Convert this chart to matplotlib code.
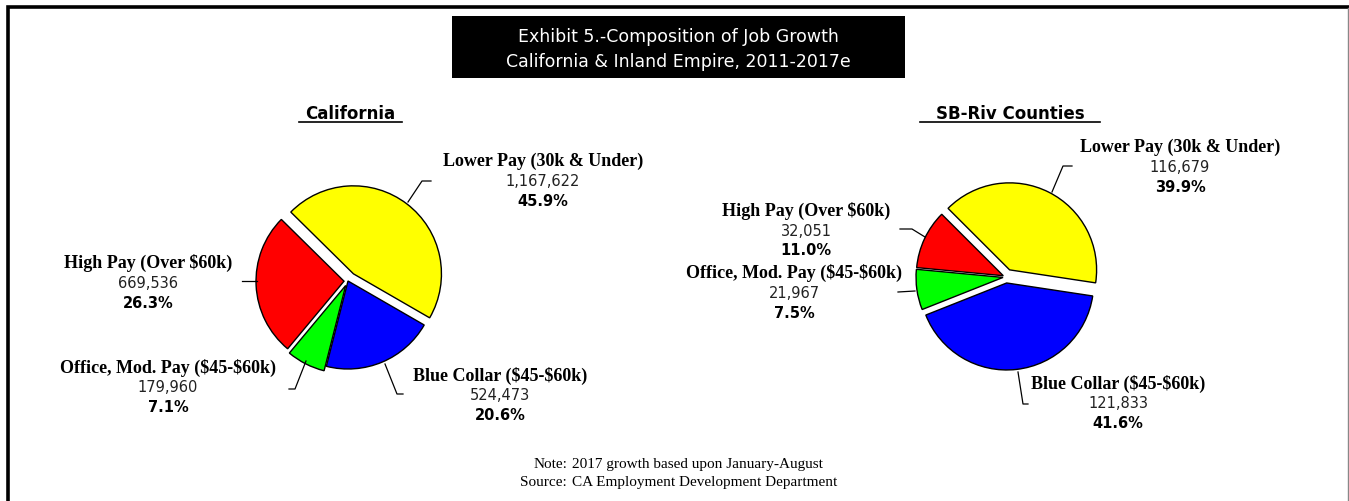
import matplotlib.pyplot as plt
from matplotlib.patches import Rectangle

plt.rcParams['text.parse_math'] = False

W, H = 1349, 502

categories = ['Lower Pay (30k & Under)', 'High Pay (Over $60k)',
              'Office, Mod. Pay ($45-$60k)', 'Blue Collar ($45-$60k)']
colors = ['#FFFF00', '#FF0000', '#00FF00', '#0000FF']

ca_jobs = [1167622, 669536, 179960, 524473]
ca_pct = [45.9, 26.3, 7.1, 20.6]
sb_jobs = [116679, 32051, 21967, 121833]
sb_pct = [39.9, 11.0, 7.5, 41.6]


def Y(y):
    return H - y


def label(ax, x, y, name, jobs, pct):
    ax.text(x, Y(y), name, ha='center', va='center', fontsize=13,
            family='Liberation Serif', fontweight='bold')
    ax.text(x, Y(y + 20), f'{jobs:,}', ha='center', va='center',
            fontsize=10.5, color='#222222')
    ax.text(x, Y(y + 40), f'{pct:.1f}%', ha='center', va='center',
            fontsize=10.5, fontweight='bold')


def leader(ax, pts):
    ax.plot([p[0] for p in pts], [Y(p[1]) for p in pts], color='black', lw=0.9)


def main():
    fig = plt.figure(figsize=(W / 100, H / 100), dpi=100)
    ax = fig.add_axes([0, 0, 1, 1])

    # explode is in data units (pixels here)
    wp = dict(edgecolor='black', linewidth=1.0)
    ax.pie(ca_pct, colors=colors, startangle=-30, counterclock=True,
           explode=[9, 4, 5, 0], center=(348, Y(282)), radius=88,
           wedgeprops=wp, frame=True)
    ax.pie(sb_pct, colors=colors, startangle=-8.6, counterclock=True,
           explode=[8, 3, 3, 6], center=(1006, Y(278)), radius=87,
           wedgeprops=wp, frame=True)

    ax.set_xlim(0, W)
    ax.set_ylim(0, H)
    ax.axis('off')

    # frame
    ax.plot([7.5, 7.5, W], [0, Y(7.5), Y(7.5)], color='black', lw=2.6,
            solid_joinstyle='miter')
    ax.plot([W - 1, W - 1], [0, Y(9)], color='#888888', lw=1)

    # title box
    ax.add_patch(Rectangle((452, Y(79)), 453, 62, facecolor='black'))
    ax.text(678, Y(37), 'Exhibit 5.-Composition of Job Growth', color='white',
            ha='center', va='center', fontsize=12.5)
    ax.text(678, Y(62), 'California & Inland Empire, 2011-2017e', color='white',
            ha='center', va='center', fontsize=12.5)

    ax.text(350, Y(114), 'California', ha='center', va='center',
            fontsize=12, fontweight='bold')
    ax.plot([299, 402], [Y(123), Y(123)], color='black', lw=1.2)
    ax.text(1010, Y(114), 'SB-Riv Counties', ha='center', va='center',
            fontsize=12, fontweight='bold')
    ax.plot([920, 1100], [Y(123), Y(123)], color='black', lw=1.2)

    # California labels
    label(ax, 543, 161, categories[0], ca_jobs[0], ca_pct[0])
    label(ax, 148, 263, categories[1], ca_jobs[1], ca_pct[1])
    label(ax, 168, 368, categories[2], ca_jobs[2], ca_pct[2])
    label(ax, 500, 376, categories[3], ca_jobs[3], ca_pct[3])
    leader(ax, [(408, 203), (422, 182), (431, 182)])
    leader(ax, [(257, 282), (242, 282)])
    leader(ax, [(306, 362), (295, 390), (289, 390)])
    leader(ax, [(385, 365), (397, 395), (403, 395)])

    # SB-Riv labels
    label(ax, 1180, 147, categories[0], sb_jobs[0], sb_pct[0])
    label(ax, 806, 211, categories[1], sb_jobs[1], sb_pct[1])
    label(ax, 794, 273, categories[2], sb_jobs[2], sb_pct[2])
    label(ax, 1118, 384, categories[3], sb_jobs[3], sb_pct[3])
    leader(ax, [(1052, 193), (1063, 167), (1072, 167)])
    leader(ax, [(925, 238), (912, 230), (900, 230)])
    leader(ax, [(915, 292), (898, 293)])
    leader(ax, [(1018, 373), (1023, 405), (1028, 405)])

    # note
    nf = dict(family='Liberation Serif', fontsize=11, va='center')
    ax.text(567, Y(465), 'Note:', ha='right', **nf)
    ax.text(572, Y(465), '2017 growth based upon January-August', ha='left', **nf)
    ax.text(567, Y(483), 'Source:', ha='right', **nf)
    ax.text(572, Y(483), 'CA Employment Development Department', ha='left', **nf)

    fig.savefig('out.png', dpi=100)


if __name__ == '__main__':
    main()
